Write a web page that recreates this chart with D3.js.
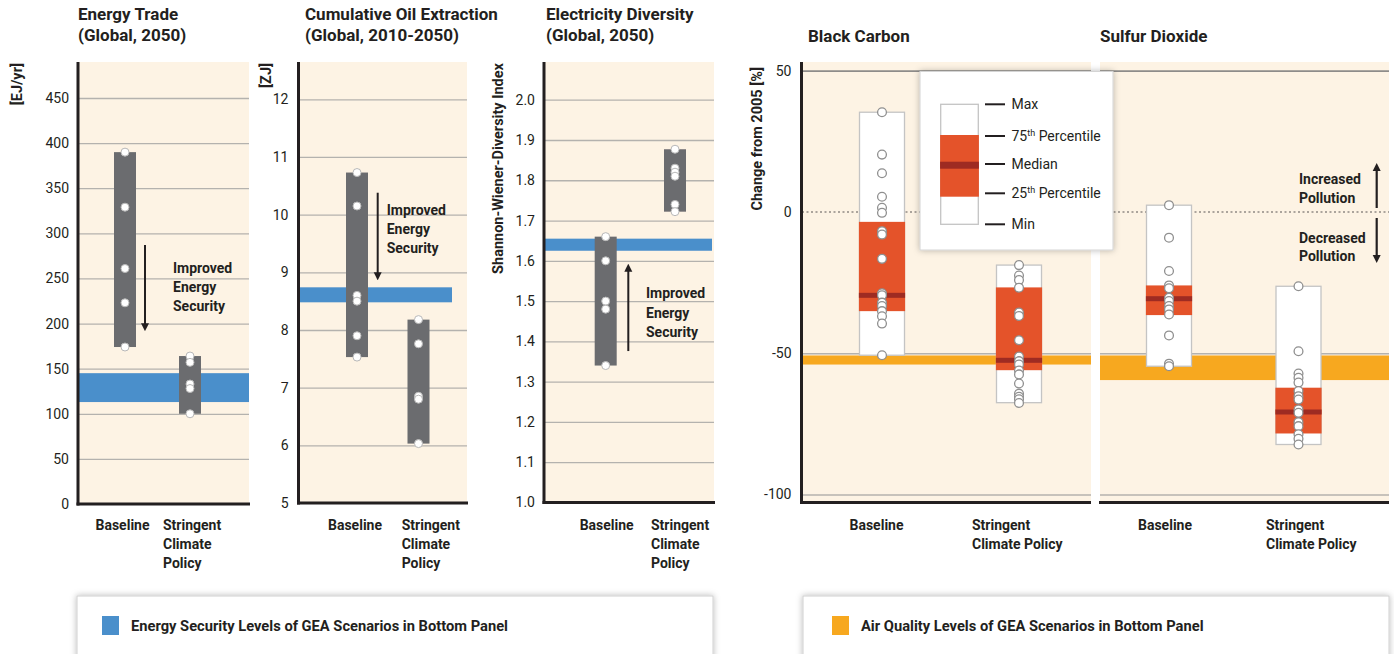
<!DOCTYPE html>
<html><head><meta charset="utf-8">
<script src="https://cdn.jsdelivr.net/npm/d3@7"></script>
<style>
body{margin:0;background:#fff;}
svg text{font-family:Roboto,"Open Sans","Noto Sans",sans-serif;fill:#231f20;}
.title{font-weight:700;font-size:17px;}
.tick{font-size:14px;}
.cat{font-weight:700;font-size:14px;}
.ann{font-weight:700;font-size:14px;}
.lab{font-weight:700;font-size:14.5px;}
.leg{font-size:14px;}
.bleg{font-weight:700;font-size:14.7px;}
</style></head><body>
<svg id="c" width="1394" height="654"></svg>
<script>
// ---------- data ----------
const scenarios = ["Baseline", "Stringent Climate Policy"];

const tradeTicks = [0, 50, 100, 150, 200, 250, 300, 350, 400, 450];
const tradeBaseline = [390, 329, 261, 223, 174];
const tradeStringent = [164, 157, 133, 128, 100];
const tradeLevel = [113, 145];

const oilTicks = [5, 6, 7, 8, 9, 10, 11, 12];
const oilBaseline = [10.73, 10.15, 8.6, 8.5, 7.9, 7.53];
const oilStringent = [8.18, 7.76, 6.85, 6.8, 6.03];
const oilLevel = [8.48, 8.74];

const divTicks = [1.0, 1.1, 1.2, 1.3, 1.4, 1.5, 1.6, 1.7, 1.8, 1.9, 2.0];
const divBaseline = [1.66, 1.60, 1.50, 1.48, 1.34];
const divStringent = [1.877, 1.83, 1.82, 1.81, 1.74, 1.722];
const divLevel = [1.625, 1.655];

const airTicks = [50, 0, -50, -100];
const bcBaselinePts = [35.3, 20.3, 13.7, 5.4, 1.5, -0.3, -6.8, -8, -16.6, -28.8, -29.5, -32.1, -33.3, -35.1, -36.9, -39.5, -50.7];
const bcStringentPts = [-18.8, -22.5, -24.1, -26.8, -35.6, -36.8, -45.4, -51.2, -52.8, -54, -56.1, -57.5, -60.7, -64.3, -65.4, -66.3, -67.6];
const so2BaselinePts = [2.4, -9.1, -20.9, -26, -27, -30.4, -31.5, -33.3, -34.5, -36.3, -43.7, -53.7, -54.6];
const so2StringentPts = [-26.3, -49.3, -57.2, -58.7, -60.4, -63.4, -65.2, -66.4, -69.9, -71.1, -74.4, -75.8, -78.7, -80.3, -82.3];
// [min, 25th, median, 75th, max]
const bcBaselineStats = [-50.7, -35.1, -29.5, -3.5, 35.3];
const bcStringentStats = [-67.5, -56, -52.5, -26.7, -18.8];
const so2BaselineStats = [-54.6, -36.5, -30.7, -26, 2.4];
const so2StringentStats = [-82.3, -78.4, -70.8, -62.2, -26.3];
const bcLevel = [-54, -50.8];
const so2Level = [-59.5, -50.8];

const legendLabels = [["Max", ""], ["75", "th", " Percentile"], ["Median", ""], ["25", "th", " Percentile"], ["Min", ""]];

// ---------- style ----------
const cream = "#fdf3e4", gridC = "#b4b2ae", axisC = "#231f20";
const blue = "#4a8fcb", amber = "#f7a81f", iqrC = "#e4532a", medC = "#9e2b22", barC = "#6b6c6f";

const svg = d3.select("#c");
const defs = svg.append("defs");
defs.append("filter").attr("id", "sh").attr("x", "-20%").attr("y", "-20%").attr("width", "140%").attr("height", "140%")
  .append("feDropShadow").attr("dx", 0).attr("dy", 0).attr("stdDeviation", 3).attr("flood-color", "#000").attr("flood-opacity", 0.28);
defs.append("marker").attr("id", "ah").attr("viewBox", "0 0 10 10").attr("refX", 5).attr("refY", 5)
  .attr("markerWidth", 8).attr("markerHeight", 9).attr("markerUnits", "userSpaceOnUse").attr("orient", "auto")
  .append("path").attr("d", "M0,0 L10,5 L0,10 Z").attr("fill", axisC);

const plainFmt = d => String(d);

function multiline(g, x, ys, lines, cls, anchor) {
  lines.forEach((t, i) => g.append("text").attr("class", cls).attr("x", x).attr("y", ys[i]).attr("text-anchor", anchor || "start").text(t));
}

function energyPanel(o) {
  const g = svg.append("g");
  const y = d3.scaleLinear().domain(o.domain).range(o.range);
  const x = d3.scalePoint().domain(scenarios).range(o.xr);
  const bottom = y(o.domain[0]);
  g.append("rect").attr("x", o.left).attr("y", 62).attr("width", o.right - o.left).attr("height", bottom - 62).attr("fill", cream);
  g.append("g").attr("transform", `translate(${o.left},0)`)
    .call(d3.axisLeft(y).tickValues(o.ticks.slice(1)).tickSize(-(o.right - o.left)).tickFormat(""))
    .call(s => { s.select(".domain").remove(); s.selectAll("line").attr("stroke", gridC).attr("stroke-width", 1.3); });
  g.append("g").attr("transform", `translate(${o.axisX},0)`)
    .call(d3.axisLeft(y).tickValues(o.ticks).tickSize(0).tickPadding(o.pad).tickFormat(o.fmt))
    .call(s => { s.select(".domain").remove(); s.selectAll("text").attr("class", "tick").attr("fill", axisC).attr("font-family", null).attr("font-size", null); });
  g.append("rect").attr("x", o.left).attr("width", o.levelRight - o.left)
    .attr("y", y(o.level[1])).attr("height", y(o.level[0]) - y(o.level[1])).attr("fill", blue);
  [o.base, o.strg].forEach((pts, i) => {
    const c = scenarios[i];
    const [mn, mx] = d3.extent(pts);
    g.append("rect").attr("x", x(c) - 11).attr("width", 22).attr("y", y(mx)).attr("height", y(mn) - y(mx)).attr("fill", barC);
    g.selectAll(null).data(pts).join("circle").attr("cx", x(c)).attr("cy", d => y(d)).attr("r", 4)
      .attr("fill", "#fff").attr("stroke", "#b8b8b8").attr("stroke-width", 1);
  });
  g.append("line").attr("x1", o.axisX).attr("x2", o.axisX).attr("y1", 62).attr("y2", bottom + 1.5).attr("stroke", axisC).attr("stroke-width", 3);
  g.append("line").attr("x1", o.axisX - 1.5).attr("x2", o.right + 1).attr("y1", bottom).attr("y2", bottom).attr("stroke", axisC).attr("stroke-width", 3);
  // titles / labels
  multiline(g, o.titleX, [20, 41], o.title, "title");
  g.append("text").attr("class", "lab").attr("transform", `translate(${o.unitX},63) rotate(-90)`).attr("text-anchor", "end").text(o.unit);
  g.append("text").attr("class", "cat").attr("x", o.catX[0]).attr("y", 530).attr("text-anchor", "middle").text("Baseline");
  multiline(g, o.catX[1], [530, 549, 568], ["Stringent", "Climate", "Policy"], "cat");
  g.append("line").attr("x1", o.arrowX).attr("x2", o.arrowX).attr("y1", y(o.arrow[0])).attr("y2", y(o.arrow[1]))
    .attr("stroke", axisC).attr("stroke-width", 2).attr("marker-end", "url(#ah)");
  multiline(g, o.annX, o.annY, ["Improved", "Energy", "Security"], "ann");
}

energyPanel({ left: 79, right: 249, axisX: 78, domain: [0, 450], range: [504, 98], xr: [125, 190], ticks: tradeTicks, fmt: plainFmt, pad: 9,
  base: tradeBaseline, strg: tradeStringent, level: tradeLevel, levelRight: 249, titleX: 78, title: ["Energy Trade", "(Global, 2050)"],
  unit: "[EJ/yr]", unitX: 22, catX: [122.5, 163], arrowX: 145, arrow: [287, 196], annX: 173, annY: [273, 292, 311] });
energyPanel({ left: 299, right: 467, axisX: 298.5, domain: [5, 12], range: [503, 99.3], xr: [357, 418.5], ticks: oilTicks, fmt: plainFmt, pad: 10,
  base: oilBaseline, strg: oilStringent, level: oilLevel, levelRight: 452, titleX: 305, title: ["Cumulative Oil Extraction", "(Global, 2010-2050)"],
  unit: "[ZJ]", unitX: 271, catX: [355, 401.7], arrowX: 377.7, arrow: [10.38, 8.93], annX: 386.7, annY: [215, 234, 253] });
energyPanel({ left: 545, right: 714, axisX: 544, domain: [1, 2], range: [502.5, 99.7], xr: [605.7, 675], ticks: divTicks, fmt: d3.format(".1f"), pad: 9,
  base: divBaseline, strg: divStringent, level: divLevel, levelRight: 712, titleX: 546, title: ["Electricity Diversity", "(Global, 2050)"],
  unit: "Shannon-Wiener-Diversity Index", unitX: 503, catX: [606.7, 651], arrowX: 628.3, arrow: [1.376, 1.583], annX: 646, annY: [298, 318, 337] });

// ---------- air quality ----------
const yA = d3.scaleLinear().domain([-100, 50]).range([494.5, 70.7]);
const airPanels = [
  { left: 802, right: 1091, xr: [882, 1019], stats: [bcBaselineStats, bcStringentStats], pts: [bcBaselinePts, bcStringentPts], level: bcLevel,
    title: "Black Carbon", titleX: 808, catX: [876.5, 972] },
  { left: 1100, right: 1389, xr: [1169, 1298.5], stats: [so2BaselineStats, so2StringentStats], pts: [so2BaselinePts, so2StringentPts], level: so2Level,
    title: "Sulfur Dioxide", titleX: 1100, catX: [1165, 1266] }
];
const ag = svg.append("g");
airPanels.forEach(p => {
  const g = ag.append("g");
  const x = d3.scalePoint().domain(scenarios).range(p.xr);
  g.append("rect").attr("x", p.left).attr("y", 62).attr("width", p.right - p.left).attr("height", 440).attr("fill", cream);
  g.append("g").attr("transform", `translate(${p.left},0)`)
    .call(d3.axisLeft(yA).tickValues(airTicks.filter(d => d !== 0)).tickSize(-(p.right - p.left)).tickFormat(""))
    .call(s => { s.select(".domain").remove();
      s.selectAll("line").attr("stroke", d => d === 50 ? "#8e8c8a" : gridC).attr("stroke-width", d => d === 50 ? 1.8 : 1.3); });
  g.append("line").attr("x1", p.left).attr("x2", p.right).attr("y1", yA(0)).attr("y2", yA(0))
    .attr("stroke", "#aba49c").attr("stroke-width", 2).attr("stroke-dasharray", "2,2.5");
  g.append("rect").attr("x", p.left).attr("width", p.right - p.left).attr("y", yA(p.level[1])).attr("height", yA(p.level[0]) - yA(p.level[1])).attr("fill", amber);
  scenarios.forEach((c, i) => {
    const [mn, q1, md, q3, mx] = p.stats[i];
    const cx = x(c), w = 45;
    g.append("rect").attr("x", cx - w / 2).attr("width", w).attr("y", yA(mx)).attr("height", yA(mn) - yA(mx))
      .attr("fill", "#fff").attr("stroke", "#c4c4c4").attr("stroke-width", 1.3);
    g.append("rect").attr("x", cx - w / 2 - 0.6).attr("width", w + 1.2).attr("y", yA(q3)).attr("height", yA(q1) - yA(q3)).attr("fill", iqrC);
    g.append("rect").attr("x", cx - w / 2 - 0.6).attr("width", w + 1.2).attr("y", yA(md) - 2.5).attr("height", 5).attr("fill", medC);
    g.selectAll(null).data(p.pts[i]).join("circle").attr("cx", cx).attr("cy", d => yA(d)).attr("r", 4.4)
      .attr("fill", "#fff").attr("stroke", "#8f8f8f").attr("stroke-width", 1.3);
  });
  g.append("line").attr("x1", p.left - 1).attr("x2", p.right).attr("y1", 502.5).attr("y2", 502.5).attr("stroke", axisC).attr("stroke-width", 3);
  g.append("text").attr("class", "title").attr("x", p.titleX).attr("y", 42).text(p.title);
  g.append("text").attr("class", "cat").attr("x", p.catX[0]).attr("y", 530).attr("text-anchor", "middle").text("Baseline");
  multiline(g, p.catX[1], [530, 549], ["Stringent", "Climate Policy"], "cat");
});
// y axis of black carbon
ag.append("g").attr("transform", "translate(801.5,0)")
  .call(d3.axisLeft(yA).tickValues(airTicks).tickSize(0).tickPadding(10).tickFormat(plainFmt))
  .call(s => { s.select(".domain").remove(); s.selectAll("text").attr("class", "tick").attr("fill", axisC).attr("font-family", null).attr("font-size", null); });
ag.append("line").attr("x1", 801.5).attr("x2", 801.5).attr("y1", 62).attr("y2", 504).attr("stroke", axisC).attr("stroke-width", 3);
ag.append("text").attr("class", "lab").attr("transform", "translate(762,67) rotate(-90)").attr("text-anchor", "end").text("Change from 2005 [%]");

// pollution arrows
multiline(ag, 1299, [184, 203], ["Increased", "Pollution"], "ann");
multiline(ag, 1299, [243, 261], ["Decreased", "Pollution"], "ann");
ag.append("line").attr("x1", 1376.7).attr("x2", 1376.7).attr("y1", 208).attr("y2", 167).attr("stroke", axisC).attr("stroke-width", 2.2).attr("marker-end", "url(#ah)");
ag.append("line").attr("x1", 1376.7).attr("x2", 1376.7).attr("y1", 218).attr("y2", 259).attr("stroke", axisC).attr("stroke-width", 2.2).attr("marker-end", "url(#ah)");

// box legend
const lg = svg.append("g");
lg.append("rect").attr("x", 920).attr("y", 71.5).attr("width", 193).attr("height", 178.5).attr("fill", "#fff").attr("stroke", "#d4d4d4").attr("filter", "url(#sh)");
const legY = [104.3, 136, 164, 193.3, 224.3];
lg.append("rect").attr("x", 940.7).attr("y", legY[0]).attr("width", 37.6).attr("height", legY[4] - legY[0]).attr("fill", "#fff").attr("stroke", "#c4c4c4").attr("stroke-width", 1.3);
lg.append("rect").attr("x", 940.1).attr("y", 135).attr("width", 38.8).attr("height", 61.7).attr("fill", iqrC);
lg.append("rect").attr("x", 940.1).attr("y", 161.7).attr("width", 38.8).attr("height", 7).attr("fill", medC);
legendLabels.forEach((l, i) => {
  lg.append("line").attr("x1", 985).attr("x2", 1005).attr("y1", legY[i]).attr("y2", legY[i]).attr("stroke", axisC).attr("stroke-width", 2);
  const t = lg.append("text").attr("class", "leg").attr("x", 1011.5).attr("y", legY[i] + 5);
  t.append("tspan").text(l[0]);
  if (l[1]) {
    t.append("tspan").attr("dy", -5).attr("font-size", "9px").text(l[1]);
    t.append("tspan").attr("dy", 5).text(l[2]);
  }
});

// bottom legends
const bottomLegends = [
  { x: 77, w: 636, sq: 102, tx: 131, color: blue, text: "Energy Security Levels of GEA Scenarios in Bottom Panel" },
  { x: 803, w: 586, sq: 832, tx: 861, color: amber, text: "Air Quality Levels of GEA Scenarios in Bottom Panel" }
];
bottomLegends.forEach(b => {
  svg.append("rect").attr("x", b.x).attr("y", 596).attr("width", b.w).attr("height", 80).attr("fill", "#fff").attr("stroke", "#d0d0d0").attr("filter", "url(#sh)");
  svg.append("rect").attr("x", b.sq).attr("y", 616).attr("width", 17).attr("height", 19).attr("fill", b.color);
  svg.append("text").attr("class", "bleg").attr("x", b.tx).attr("y", 630.5).text(b.text);
});
</script></body></html>
